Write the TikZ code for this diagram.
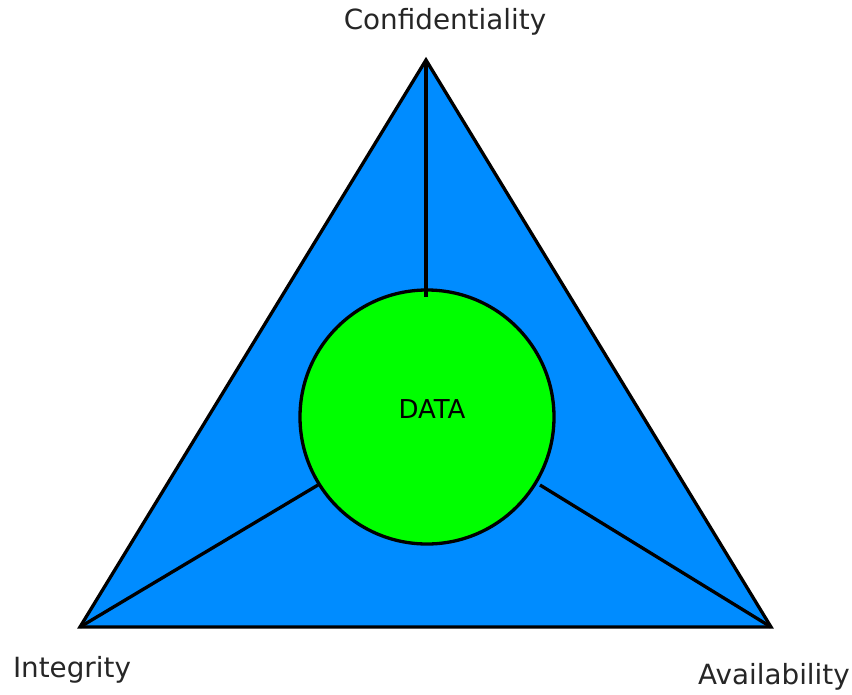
\documentclass[tikz,border=0pt]{standalone}
\usepackage{fontspec}
\setmainfont{DejaVu Sans}
\definecolor{triblue}{RGB}{0,140,255}
\definecolor{datagreen}{RGB}{0,255,0}
\begin{document}
\begin{tikzpicture}[x=1pt,y=-1pt,
  edge/.style={draw=black,line width=3.3pt},
  lbl/.style={font=\fontsize{27.8}{32}\selectfont,text=black!85,inner sep=0pt}]
\useasboundingbox (0,0) rectangle (852,694);
\coordinate (top) at (426,60);
\coordinate (bl) at (80,627);
\coordinate (br) at (771,627);
\draw[edge,fill=triblue,line join=miter] (top) -- (bl) -- (br) -- cycle;
\node[circle,draw=black,line width=3.3pt,fill=datagreen,minimum size=254pt,inner sep=0pt] (data) at (427,417) {};
\node[font=\fontsize{26}{30}\selectfont,inner sep=0pt] at (432,409) {DATA};
\coordinate (ct) at (426,297);
\coordinate (cl) at (318,485);
\coordinate (cr) at (540,485);
\draw[edge] (top) -- (ct);
\draw[edge] (bl) -- (cl);
\draw[edge] (br) -- (cr);
\node[lbl] (conf) at (445,22) {Confidentiality};
\node[lbl] (integ) at (72,670) {Integrity};
\node[lbl,anchor=west] (avail) at (698,677) {Availability};
\end{tikzpicture}
\end{document}
